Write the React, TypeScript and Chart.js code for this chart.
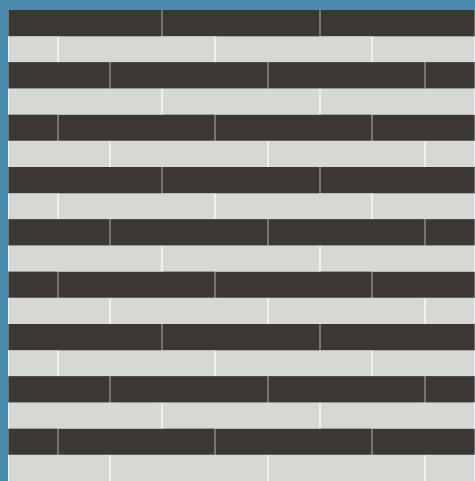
import React, { useEffect, useRef } from "react";
import { Chart, registerables } from "chart.js";

Chart.register(...registerables);

// 18 courses of bricks, top to bottom
const rowLabels = ["1","2","3","4","5","6","7","8","9","10","11","12","13","14","15","16","17","18"];
const rowTones = ["dark","light","dark","light","dark","light","dark","light","dark","light","dark","light","dark","light","dark","light","dark","light"];
// brick lengths along each course (stacked left to right)
const brick1 = [154, 50, 102, 154, 50, 102, 154, 50, 102, 154, 50, 102, 154, 50, 102, 154, 50, 102];
const brick2 = [158, 157, 158, 158, 157, 158, 158, 157, 158, 158, 157, 158, 158, 157, 158, 158, 157, 158];
const brick3 = [155, 157, 157, 155, 157, 157, 155, 157, 157, 155, 157, 157, 155, 157, 157, 155, 157, 157];
const brick4 = [0, 103, 50, 0, 103, 50, 0, 103, 50, 0, 103, 50, 0, 103, 50, 0, 103, 50];
const wallLength = 467;

const DARK = "#3d3734";
const LIGHT = "#d7d8d4";
const DARK_JOINT = "#7e7a77";
const LIGHT_JOINT = "#f2f2f0";
const BG = "#4b8bab";

export default function App() {
  const ref = useRef<HTMLCanvasElement | null>(null);
  useEffect(() => {
    document.body.style.margin = "0";
    const fill = rowTones.map((t) => (t === "dark" ? DARK : LIGHT));
    const joint = rowTones.map((t) => (t === "dark" ? DARK_JOINT : LIGHT_JOINT));
    const mk = (data: number[], i: number) => ({
      label: "brick " + (i + 1),
      data,
      backgroundColor: fill,
      borderColor: joint,
      borderWidth: { left: 1.5, right: 1.5, top: 0, bottom: 0 },
      borderSkipped: false,
      barPercentage: 1,
      categoryPercentage: 1,
      inflateAmount: 0.6,
    });
    const chart = new Chart(ref.current!, {
      type: "bar",
      data: {
        labels: rowLabels,
        datasets: [brick1, brick2, brick3, brick4].map(mk) as any,
      },
      options: {
        indexAxis: "y",
        animation: false,
        responsive: false,
        maintainAspectRatio: false,
        layout: { padding: { left: 8, top: 10, right: 0, bottom: 0 } },
        plugins: { legend: { display: false }, tooltip: { enabled: false } },
        scales: {
          x: { stacked: true, min: 0, max: wallLength, display: false },
          y: { stacked: true, display: false },
        },
      },
    });
    return () => chart.destroy();
  }, []);
  return (
    <div style={{ position: "fixed", left: 0, top: 0, width: 475, height: 481, background: BG }}>
      <canvas ref={ref} width={475} height={481} style={{ display: "block" }} />
    </div>
  );
}
